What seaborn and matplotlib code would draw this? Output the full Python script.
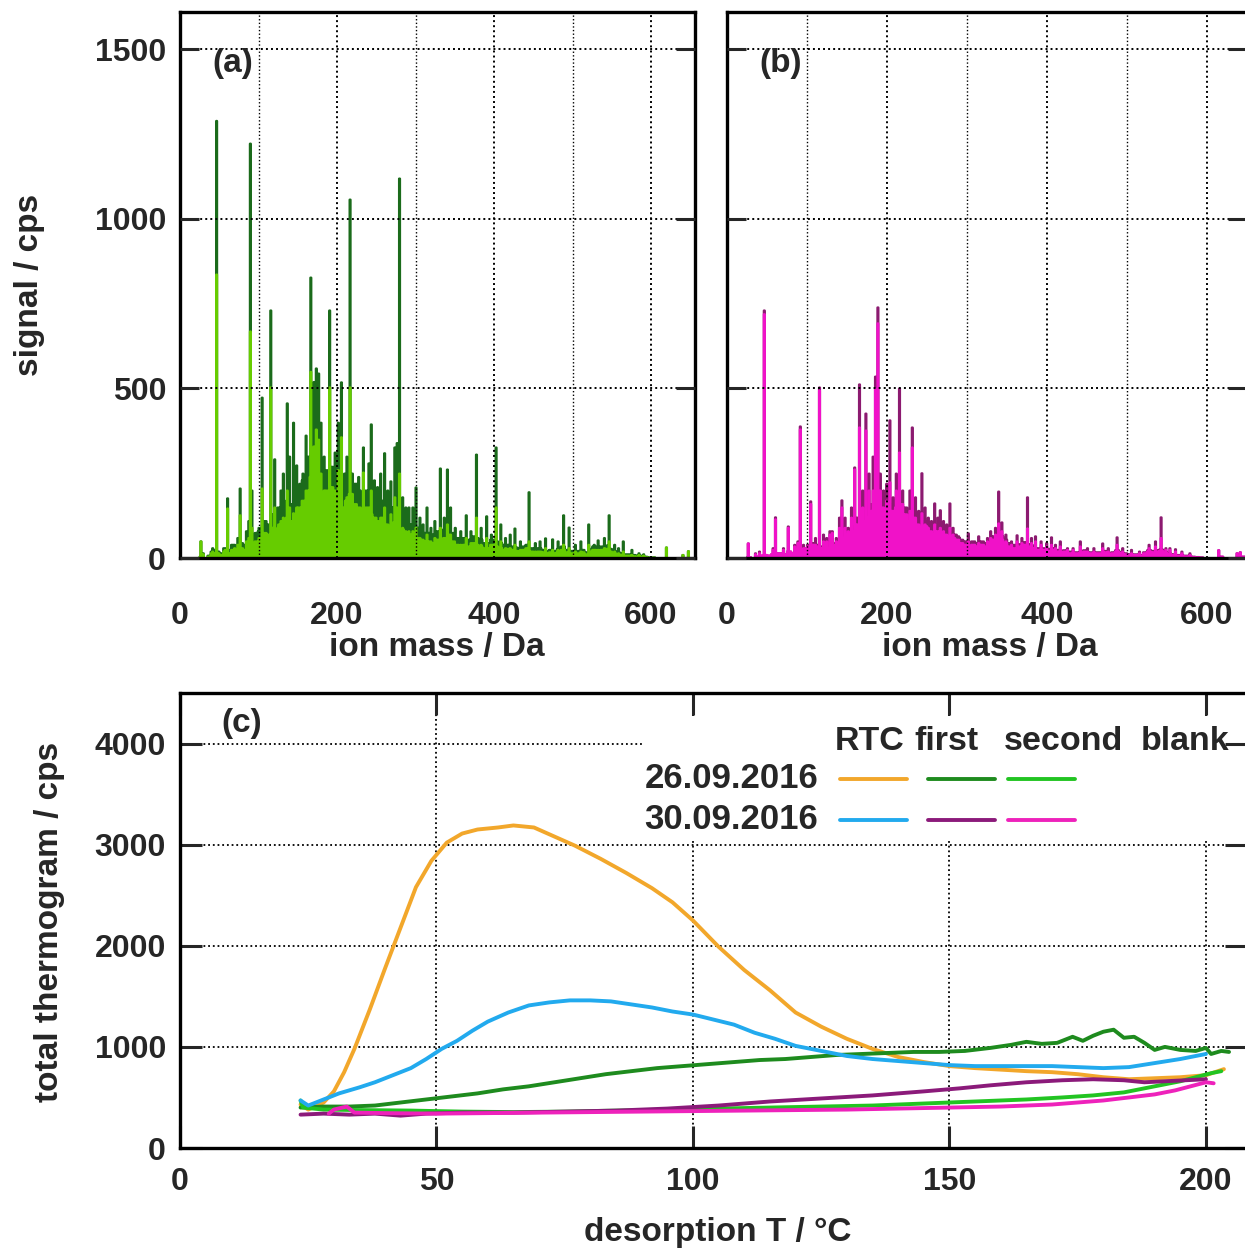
import numpy as np
import matplotlib
matplotlib.use("Agg")
import matplotlib.pyplot as plt
from matplotlib.ticker import MultipleLocator
from matplotlib.patches import Rectangle
import seaborn as sns

# ---------------- mass spectra (a) and (b) ----------------
# background level, one value per 5 Da bin starting at 20 Da
bg_start = 20
a_second_bg = [0, 5, 0, 5, 10, 15, 10, 20, 15, 25, 20, 30, 25, 40, 35, 50,
               60, 75, 70, 90, 85, 100, 95, 120, 110, 130, 150, 170, 200, 240, 260, 220, 180, 200, 210, 170,
               160, 150, 170, 190, 160, 150, 140, 150, 130, 120, 110, 120, 100, 95, 105, 100, 85, 75, 70, 65,
               60, 55, 50, 50, 45, 55, 50, 60, 70, 50, 40, 35, 40, 35, 45, 40, 35, 30, 30, 40,
               35, 30, 25, 28, 25, 22, 20, 25, 30, 20, 18, 20, 18, 15, 18, 15, 20, 25, 18, 15,
               15, 15, 18, 12, 20, 25, 22, 25, 28, 20, 15, 12, 10, 8, 8, 6, 5, 5, 3, 2,
               2, 0, 0, 0, 0, 0, 0, 0, 0, 0]
a_first_bg = [0, 5, 0, 8, 15, 20, 15, 30, 25, 40, 30, 45, 40, 60, 50, 75,
              90, 110, 100, 130, 130, 150, 140, 170, 160, 190, 200, 230, 260, 300, 320, 290, 240, 260, 270, 230,
              220, 210, 230, 250, 220, 200, 190, 200, 180, 170, 160, 170, 150, 140, 150, 140, 120, 110, 100, 95,
              90, 80, 75, 75, 70, 80, 75, 85, 95, 75, 60, 55, 60, 55, 65, 60, 55, 45, 45, 55,
              50, 45, 40, 40, 35, 32, 30, 35, 40, 30, 28, 30, 25, 22, 25, 22, 28, 35, 25, 22,
              22, 22, 25, 18, 28, 35, 30, 35, 38, 28, 22, 18, 15, 12, 12, 10, 8, 8, 5, 3,
              3, 0, 0, 0, 0, 0, 0, 0, 0, 0]
a_peak_mass = [26, 29, 39, 41, 43, 46, 57, 60, 69, 73, 76, 84, 87, 89, 91, 95, 99, 104, 107, 115,
               120, 124, 128, 131, 136, 139, 144, 148, 152, 156, 160, 163, 166, 170, 173, 176, 179, 183, 186, 190,
               193, 197, 201, 205, 209, 212, 216, 219, 223, 227, 233, 237, 240, 243, 247, 251, 255, 260, 264, 268,
               273, 276, 279, 283, 287, 291, 296, 300, 305, 309, 314, 319, 324, 331, 336, 340, 344, 350, 357, 364,
               370, 377, 383, 390, 396, 402, 408, 414, 420, 426, 433, 444, 452, 458, 465, 474, 481, 488, 495, 503,
               510, 520, 527, 532, 540, 546, 553, 558, 564, 575, 584, 590, 619, 640, 647]
a_peak_first = [50, 15, 20, 30, 25, 1290, 30, 177, 40, 60, 206, 80, 110, 1223, 200, 60, 80, 474, 100, 731,
                292, 150, 200, 250, 457, 300, 400, 274, 220, 250, 362, 300, 828, 520, 560, 545, 400, 300, 250, 731,
                250, 312, 400, 519, 250, 300, 1058, 250, 200, 240, 327, 200, 280, 395, 230, 210, 250, 310, 200, 227,
                327, 340, 1120, 180, 150, 150, 150, 209, 120, 100, 150, 90, 110, 265, 120, 262, 150, 90, 80, 127,
                80, 306, 90, 124, 70, 327, 100, 60, 70, 88, 50, 195, 45, 50, 59, 56, 50, 127, 91, 40,
                50, 100, 40, 53, 60, 127, 40, 30, 50, 25, 15, 12, 32, 10, 21]
a_peak_second = [50, 12, 15, 20, 15, 837, 25, 147, 30, 40, 127, 50, 60, 669, 90, 40, 50, 206, 60, 504,
                 150, 90, 110, 120, 200, 150, 133, 150, 130, 160, 180, 200, 550, 330, 380, 350, 250, 200, 170, 504,
                 180, 200, 260, 357, 150, 180, 504, 160, 120, 140, 253, 130, 150, 200, 120, 110, 120, 150, 100, 130,
                 180, 150, 250, 90, 80, 80, 80, 90, 60, 55, 70, 50, 60, 90, 60, 100, 70, 40, 40, 60,
                 40, 120, 40, 60, 35, 150, 50, 30, 30, 40, 25, 50, 20, 20, 30, 25, 25, 40, 30, 20,
                 20, 40, 20, 25, 30, 50, 20, 15, 20, 10, 10, 8, 32, 10, 21]

b_second_bg = [0, 3, 0, 5, 8, 10, 8, 12, 15, 15, 12, 20, 15, 25, 25, 30,
               35, 40, 35, 30, 25, 30, 35, 40, 50, 60, 70, 80, 100, 120, 110, 120, 140, 160, 150, 110,
               130, 140, 150, 160, 130, 110, 120, 100, 90, 95, 80, 70, 80, 75, 70, 65, 60, 55, 45, 40,
               35, 40, 35, 40, 35, 45, 55, 60, 55, 45, 35, 30, 30, 35, 40, 35, 30, 25, 25, 25,
               22, 25, 20, 18, 20, 15, 15, 15, 15, 20, 15, 15, 15, 15, 18, 12, 15, 20, 15, 12,
               10, 10, 10, 8, 15, 20, 18, 20, 22, 15, 12, 10, 8, 8, 6, 6, 4, 3, 2, 0,
               0, 0, 0, 5, 0, 0, 0, 0, 5, 5]
b_first_bg = [0, 3, 0, 5, 8, 10, 8, 12, 15, 15, 12, 20, 15, 25, 25, 30,
              40, 45, 40, 35, 30, 35, 40, 45, 60, 70, 85, 100, 120, 140, 130, 140, 160, 180, 170, 130,
              150, 160, 170, 180, 150, 130, 140, 120, 110, 110, 95, 85, 95, 90, 85, 75, 70, 65, 55, 50,
              45, 50, 45, 50, 45, 55, 65, 70, 65, 55, 45, 40, 38, 42, 48, 42, 38, 30, 30, 30,
              28, 30, 25, 22, 24, 20, 18, 18, 18, 24, 18, 18, 18, 18, 22, 15, 18, 24, 18, 15,
              12, 12, 12, 10, 18, 24, 22, 24, 26, 18, 14, 12, 10, 10, 8, 8, 5, 4, 3, 0,
              0, 0, 0, 5, 0, 0, 0, 0, 5, 5]
b_peak_mass = [26, 35, 40, 46, 57, 60, 70, 76, 84, 88, 91, 95, 100, 104, 110, 115, 120, 124, 128, 131,
               136, 140, 143, 147, 151, 155, 159, 165, 169, 173, 177, 182, 185, 188, 191, 195, 199, 203, 207, 211,
               215, 219, 224, 228, 231, 235, 239, 243, 247, 251, 255, 259, 263, 266, 270, 274, 278, 282, 286, 290,
               295, 301, 308, 314, 320, 325, 329, 335, 339, 343, 348, 355, 362, 368, 375, 380, 385, 392, 399, 405,
               410, 416, 425, 432, 441, 450, 458, 469, 476, 487, 494, 505, 515, 527, 535, 542, 548, 553, 560, 568,
               578, 614, 637, 641]
b_peak_first = [44, 15, 20, 731, 30, 121, 30, 94, 40, 50, 389, 40, 40, 168, 60, 504, 70, 60, 80, 80,
                60, 120, 171, 120, 90, 150, 268, 513, 200, 427, 250, 300, 536, 740, 250, 200, 220, 407, 180, 250,
                501, 200, 150, 200, 386, 180, 140, 251, 150, 120, 110, 162, 120, 142, 110, 100, 162, 90, 70, 60,
                50, 74, 50, 65, 50, 60, 80, 90, 197, 106, 70, 50, 68, 60, 180, 60, 65, 50, 45, 62,
                40, 50, 30, 30, 50, 30, 30, 44, 30, 62, 30, 25, 20, 40, 50, 121, 30, 30, 27, 20,
                15, 24, 15, 18]
b_peak_second = [44, 12, 15, 720, 25, 115, 25, 90, 35, 45, 380, 30, 35, 160, 40, 495, 50, 50, 70, 75,
                 50, 90, 150, 90, 80, 120, 262, 386, 150, 377, 200, 200, 500, 693, 200, 150, 170, 224, 130, 200,
                 312, 150, 110, 140, 327, 120, 100, 133, 100, 90, 80, 100, 80, 90, 80, 70, 90, 70, 50, 45,
                 40, 50, 40, 45, 40, 50, 60, 70, 103, 80, 50, 40, 50, 45, 88, 45, 50, 40, 35, 40,
                 30, 35, 25, 25, 35, 20, 20, 30, 20, 40, 20, 15, 15, 30, 35, 60, 25, 25, 20, 15,
                 10, 24, 15, 18]

# ---------------- thermograms (c) ----------------
rtc1_T = [23.5, 25, 28, 30, 32, 34, 37, 40, 43, 46, 49, 52, 55, 58, 62, 65, 69, 73, 77, 82, 87, 92, 96, 100,
          105, 110, 115, 120, 125, 130, 135, 140, 145, 150, 155, 160, 165, 170, 175, 180, 185, 190, 195, 200, 203.5]
rtc1_v = [430, 380, 450, 560, 750, 980, 1370, 1780, 2180, 2580, 2840, 3020, 3110, 3150, 3170, 3190, 3170, 3080,
          2990, 2860, 2720, 2570, 2430, 2250, 1990, 1760, 1560, 1340, 1200, 1080, 980, 900, 850, 810, 790, 775,
          760, 750, 730, 700, 680, 690, 700, 720, 780]
rtc2_T = [23.5, 25, 28, 31, 35, 38, 42, 45, 48, 51, 54, 57, 60, 64, 68, 72, 76, 80, 84, 88, 92, 96, 100, 104,
          108, 112, 116, 120, 125, 130, 135, 140, 145, 150, 155, 160, 165, 170, 175, 180, 185, 190, 195, 200]
rtc2_v = [470, 420, 480, 540, 600, 650, 730, 790, 880, 980, 1060, 1160, 1250, 1340, 1410, 1440, 1460, 1460,
          1450, 1420, 1390, 1350, 1320, 1270, 1220, 1140, 1080, 1010, 960, 910, 880, 860, 840, 820, 810, 810,
          810, 810, 800, 790, 800, 840, 880, 930]
first1_T = [23.5, 28, 33, 38, 43, 48, 53, 58, 63, 68, 73, 78, 83, 88, 93, 98, 103, 108, 113, 118, 123, 128, 133,
            138, 143, 148, 153, 158, 162, 165, 168, 171, 174, 176, 178, 180, 182, 184, 186, 188, 190, 192, 195,
            198, 200, 201, 203, 204.5]
first1_v = [400, 410, 410, 420, 450, 480, 510, 540, 580, 610, 650, 690, 730, 760, 790, 810, 830, 850, 870, 880,
            900, 920, 930, 940, 950, 950, 960, 990, 1020, 1050, 1030, 1040, 1100, 1060, 1110, 1150, 1170, 1090,
            1100, 1040, 970, 1000, 970, 960, 990, 930, 960, 950]
second1_T = [23.5, 24, 28, 35, 45, 55, 65, 75, 85, 95, 105, 115, 125, 135, 145, 155, 165, 172, 178, 184, 188,
             192, 195, 198, 201, 203]
second1_v = [470, 400, 380, 375, 370, 360, 355, 360, 370, 380, 390, 400, 410, 420, 440, 460, 480, 500, 520, 550,
             590, 630, 660, 700, 740, 760]
first2_T = [23.5, 28, 33, 38, 43, 48, 55, 65, 75, 85, 95, 105, 115, 125, 135, 145, 152, 158, 165, 172, 178, 184,
            188, 192, 196, 200]
first2_v = [330, 340, 330, 340, 320, 340, 350, 350, 360, 370, 390, 420, 460, 490, 520, 560, 590, 620, 650, 670,
            680, 670, 650, 660, 670, 680]
second2_T = [29, 30, 32.5, 34, 40, 50, 60, 70, 80, 90, 100, 110, 120, 130, 140, 150, 160, 170, 175, 180, 185,
             190, 194, 197, 200, 201.5]
second2_v = [340, 380, 410, 350, 345, 340, 345, 350, 355, 360, 365, 370, 375, 380, 390, 400, 410, 430, 450, 470,
             500, 530, 570, 610, 650, 640]

dates = ["26.09.2016", "30.09.2016"]
kinds = ["RTC", "first", "second", "blank"]


def build_spectrum(bg, pk_mass, pk_val, top):
    s = np.zeros(top + 1)
    s[bg_start:bg_start + 5 * len(bg)] = np.repeat(bg, 5)
    for m, v in zip(pk_mass, pk_val):
        s[m] = max(s[m], v)
    return s


sns.set_style("white")
plt.rcParams['font.family'] = ['Liberation Sans', 'DejaVu Sans']
plt.rcParams['font.weight'] = 'bold'
plt.rcParams['font.size'] = 23

W, H = 1245, 1252
fig = plt.figure(figsize=(W / 100, H / 100), dpi=100)


def px_axes(left, top, right, bottom):
    return fig.add_axes([left / W, 1 - bottom / H, (right - left) / W, (bottom - top) / H])


ax_a = px_axes(180, 12, 695, 558)
ax_b = px_axes(727, 12, 1247, 558)
ax_c = px_axes(180, 693, 1247, 1148)

dots = (0, (1, 1.6))
mass = np.arange(0, 661)

for ax, first, second, c1, c2, lab, xmax in [
    (ax_a, build_spectrum(a_first_bg, a_peak_mass, a_peak_first, 660),
     build_spectrum(a_second_bg, a_peak_mass, a_peak_second, 660), '#1b6b1b', '#66cc00', '(a)', 656),
    (ax_b, build_spectrum(b_first_bg, b_peak_mass, b_peak_first, 660),
     build_spectrum(b_second_bg, b_peak_mass, b_peak_second, 660), '#8c1a70', '#f012c8', '(b)', 650),
]:
    sns.histplot(x=mass, weights=first, discrete=True, element="step", fill=True,
                 color=c1, alpha=1, linewidth=1.7, ax=ax)
    sns.histplot(x=mass, weights=second, discrete=True, element="step", fill=True,
                 color=c2, alpha=1, linewidth=1.7, ax=ax)
    ax.set_xlim(0, xmax)
    ax.set_ylim(0, 1610)
    ax.xaxis.set_major_locator(MultipleLocator(200))
    ax.xaxis.set_minor_locator(MultipleLocator(100))
    ax.yaxis.set_major_locator(MultipleLocator(500))
    ax.set_axisbelow(False)
    ax.grid(True, which='major', color='black', linestyle=dots, linewidth=1.4)
    ax.grid(True, which='minor', axis='x', color='black', linestyle=dots, linewidth=1.0)
    ax.tick_params(axis='x', which='major', direction='out', length=16, width=2.2, pad=15, labelsize=23)
    ax.tick_params(axis='x', which='minor', direction='out', length=8, width=2.2)
    ax.tick_params(axis='y', which='major', direction='in', length=14, width=2.2, left=True, right=True,
                   pad=10, labelsize=23)
    ax.set_xlabel("")
    ax.set_ylabel("")
    ax.text(0.063, 0.906, lab, transform=ax.transAxes, ha='left', va='center', fontsize=24)
    for s in ax.spines.values():
        s.set_linewidth(2.4)
        s.set_color('black')
ax_b.tick_params(axis='y', labelleft=False)

# thermograms
for T, v, c in [(rtc1_T, rtc1_v, '#f2a72b'), (first1_T, first1_v, '#1e8b1e'),
                (second1_T, second1_v, '#22c422'), (rtc2_T, rtc2_v, '#22aaee'),
                (first2_T, first2_v, '#8b1a7a'), (second2_T, second2_v, '#ee22bb')]:
    sns.lineplot(x=T, y=v, color=c, linewidth=2.8, ax=ax_c)

ax_c.set_xlim(0, 208)
ax_c.set_ylim(0, 4500)
ax_c.xaxis.set_major_locator(MultipleLocator(50))
ax_c.yaxis.set_major_locator(MultipleLocator(1000))
ax_c.set_axisbelow(True)
ax_c.grid(True, which='major', color='black', linestyle=dots, linewidth=1.3)
ax_c.tick_params(axis='both', which='major', direction='in', length=16, width=2.2,
                 top=True, bottom=True, left=True, right=True, labelsize=23)
ax_c.tick_params(axis='x', pad=14)
ax_c.tick_params(axis='y', pad=10)
for s in ax_c.spines.values():
    s.set_linewidth(2.4)
    s.set_color('black')
ax_c.text(0.039, 0.932, "(c)", transform=ax_c.transAxes, ha='left', va='center', fontsize=24)

# legend table
ax_c.add_patch(Rectangle((0.434, 0.677), 0.544, 0.272, transform=ax_c.transAxes,
                         facecolor='white', edgecolor='none', zorder=1))
for k, xc in zip(kinds, [0.6467, 0.7179, 0.8276, 0.9419]):
    ax_c.text(xc, 0.8945, k, transform=ax_c.transAxes, ha='center', va='center', fontsize=24.5, zorder=3)
legend_cols = [(0.6186, 0.6814), (0.701, 0.764), (0.776, 0.839)]
legend_colors = [['#f2a72b', '#1e8b1e', '#22c422'], ['#22aaee', '#8b1a7a', '#ee22bb']]
for d, yc, cols in zip(dates, [0.811, 0.721], legend_colors):
    ax_c.text(0.598, yc, d, transform=ax_c.transAxes, ha='right', va='center', fontsize=25, zorder=3)
    for (x0, x1), c in zip(legend_cols, cols):
        ax_c.plot([x0, x1], [yc, yc], color=c, linewidth=2.8, transform=ax_c.transAxes, zorder=3)

ax_c.set_xlabel("")
ax_c.set_ylabel("")

fig.text(30 / W, 1 - 285 / H, "signal / cps", rotation=90, ha='center', va='center', fontsize=24)
fig.text(50 / W, 1 - 922 / H, "total thermogram / cps", rotation=90, ha='center', va='center', fontsize=24)
fig.text(437 / W, 1 - 648 / H, "ion mass / Da", ha='center', va='center', fontsize=24)
fig.text(990 / W, 1 - 648 / H, "ion mass / Da", ha='center', va='center', fontsize=24)
fig.text(718 / W, 1 - 1233 / H, "desorption T / °C", ha='center', va='center', fontsize=24)

fig.savefig("out.png", dpi=100)
